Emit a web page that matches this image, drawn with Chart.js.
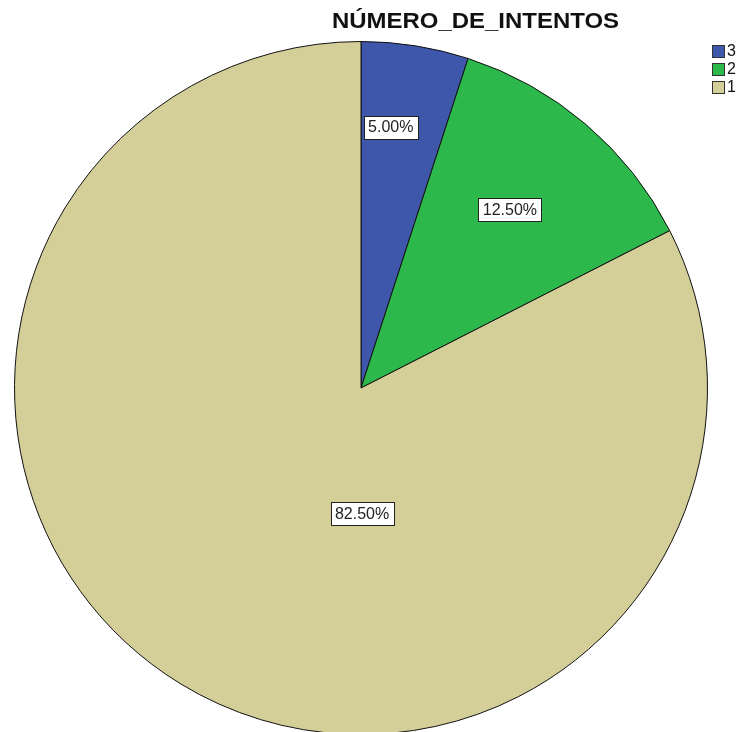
<!DOCTYPE html>
<html lang="es">
  <head>
    <meta charset="UTF-8" />
    <title>NÚMERO_DE_INTENTOS</title>
    <style>
      html, body { margin: 0; padding: 0; background: #fff; overflow: hidden; }
      canvas { display: block; }
    </style>
  </head>
  <body>
    <canvas id="myChart" width="738" height="740"></canvas>

    <script src="https://cdn.jsdelivr.net/npm/chart.js@4"></script>
    <script>
      const chartTitle = "NÚMERO_DE_INTENTOS";
      const categories = ["3", "2", "1"];
      const percents = [5.0, 12.5, 82.5];
      const sliceColors = ["#3e57ab", "#2db84c", "#d4cf99"];
      // where each label box sits: angle from 12 o'clock (deg) and fraction of radius
      const labelAngles = [6.5, 39.9, 179.5];
      const labelRadii = [0.758, 0.67, 0.363];

      // percentage boxes on the slices
      const boxLabels = {
        id: "boxLabels",
        afterDatasetsDraw(chart) {
          const ctx = chart.ctx;
          const arcs = chart.getDatasetMeta(0).data;
          ctx.save();
          ctx.font = "16px 'Liberation Sans', Arial, sans-serif";
          ctx.textAlign = "center";
          ctx.textBaseline = "middle";
          arcs.forEach((arc, i) => {
            const a = (labelAngles[i] * Math.PI) / 180;
            const r = arc.outerRadius * labelRadii[i];
            const x = arc.x + r * Math.sin(a);
            const y = arc.y - r * Math.cos(a);
            const text = percents[i].toFixed(2) + "%";
            const w = Math.round(ctx.measureText(text).width + 9);
            const h = 23;
            const bx = Math.round(x - w / 2) + 0.5;
            const by = Math.round(y - h / 2) + 0.5;
            ctx.fillStyle = "#fff";
            ctx.fillRect(bx, by, w, h);
            ctx.strokeStyle = "#222";
            ctx.lineWidth = 1;
            ctx.strokeRect(bx, by, w, h);
            ctx.fillStyle = "#222";
            ctx.fillText(text, x, y + 1);
          });
          ctx.restore();
        }
      };

      // title and the little legend up in the right corner
      const titleAndLegend = {
        id: "titleAndLegend",
        afterDraw(chart) {
          const ctx = chart.ctx;
          ctx.save();
          ctx.fillStyle = "#111";
          ctx.font = "bold 22px 'Liberation Sans', Arial, sans-serif";
          ctx.textAlign = "center";
          ctx.textBaseline = "middle";
          const tw = ctx.measureText(chartTitle).width;
          ctx.save();
          ctx.translate(475.5, 22);
          ctx.scale(287 / tw, 1);
          ctx.fillText(chartTitle, 0, 0);
          ctx.restore();

          ctx.font = "16px 'Liberation Sans', Arial, sans-serif";
          ctx.textAlign = "left";
          categories.forEach((c, i) => {
            const y = 45 + i * 18;
            ctx.fillStyle = sliceColors[i];
            ctx.fillRect(712.5, y + 0.5, 12, 12);
            ctx.strokeStyle = "#333";
            ctx.lineWidth = 1;
            ctx.strokeRect(712.5, y + 0.5, 12, 12);
            ctx.fillStyle = "#111";
            ctx.fillText(c, 727, y + 7);
          });
          ctx.restore();
        }
      };

      const ctx = document.getElementById("myChart").getContext("2d");
      const chart = new Chart(ctx, {
        type: "pie",
        data: {
          labels: categories,
          datasets: [
            {
              data: percents,
              backgroundColor: sliceColors,
              borderColor: "#111",
              borderWidth: 1,
              borderAlign: "center"
            }
          ]
        },
        options: {
          responsive: false,
          animation: false,
          layout: { padding: { left: 14, top: 41, right: 30, bottom: 5 } },
          plugins: {
            legend: { display: false },
            title: { display: false },
            tooltip: { enabled: false }
          }
        },
        plugins: [boxLabels, titleAndLegend]
      });
    </script>
  </body>
</html>
